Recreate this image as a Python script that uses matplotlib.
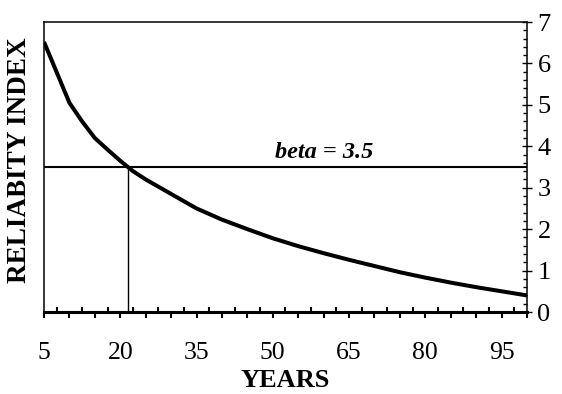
import numpy as np
import matplotlib.pyplot as plt
from matplotlib.ticker import MultipleLocator, FixedLocator

# data
years = [5, 10, 12.5, 15, 17.5, 20, 22.5, 25, 30, 35, 40, 45, 50, 55, 60, 65, 70, 75,
         80, 85, 90, 95, 100]
beta = [6.52, 5.05, 4.6, 4.2, 3.92, 3.65, 3.4, 3.2, 2.85, 2.5, 2.23, 2.0, 1.78, 1.59,
        1.42, 1.26, 1.11, 0.96, 0.83, 0.71, 0.6, 0.5, 0.4]
target_beta = 3.5
cross_year = 21.5
xtick_labels = [5, 20, 35, 50, 65, 80, 95]

plt.rcParams['font.family'] = ['Liberation Serif', 'DejaVu Serif']

fig = plt.figure(figsize=(5.62, 3.94), dpi=100)
ax = fig.add_axes([0.0783, 0.2081, 0.8594, 0.736])

ax.plot(years, beta, color='black', lw=2.9, solid_capstyle='butt', solid_joinstyle='round')
ax.axhline(target_beta, color='black', lw=1.5)
ax.plot([cross_year, cross_year], [0, target_beta], color='black', lw=1.0)
ax.text(60, target_beta + 0.1, 'beta = 3.5', ha='center', va='bottom',
        fontsize=17.5, fontweight='bold', fontstyle='italic')

ax.set_xlim(5, 100)
ax.set_ylim(0, 7)

# x axis: ticks down every 5, up between them
major_x = np.arange(5, 101, 5)
ax.xaxis.set_major_locator(FixedLocator(major_x))
ax.set_xticklabels([str(v) if v in xtick_labels else '' for v in major_x])
ax.xaxis.set_minor_locator(FixedLocator(np.arange(7.5, 100, 5)))
ax.tick_params(axis='x', which='major', direction='out', length=4.5, width=1.5,
               labelsize=18.5, pad=17)
ax.tick_params(axis='x', which='minor', direction='in', length=3.5, width=1.5)

# y axis on the right
ax.yaxis.tick_right()
ax.yaxis.set_major_locator(MultipleLocator(1))
ax.yaxis.set_minor_locator(MultipleLocator(0.2))
ax.tick_params(axis='y', which='major', direction='inout', length=7, width=1.0,
               labelsize=19, pad=4, left=False)
ax.tick_params(axis='y', which='minor', direction='in', length=3, width=1.0, left=False)

for side in ['left', 'right', 'top']:
    ax.spines[side].set_linewidth(1.1)
ax.spines['bottom'].set_linewidth(2.2)

ax.set_xlabel('YEARS', fontsize=19, fontweight='bold', labelpad=4)
ax.set_ylabel('RELIABITY INDEX', fontsize=19.5, fontweight='bold')
ax.yaxis.set_label_position('left')
ax.yaxis.set_label_coords(-0.024, 0.525)

fig.savefig('out.png', dpi=100)
